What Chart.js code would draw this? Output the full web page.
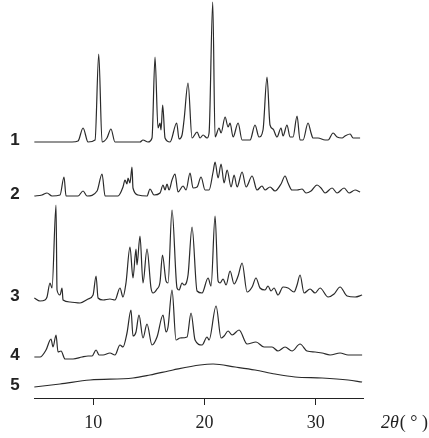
<!DOCTYPE html>
<html>
<head>
<meta charset="utf-8">
<script src="https://cdn.jsdelivr.net/npm/chart.js@4.4.1/dist/chart.umd.min.js"></script>
<style>
  html, body { margin: 0; padding: 0; background: #fff; }
</style>
</head>
<body>
<canvas id="xrdChart" width="429" height="438"></canvas>
<script>
// 2theta positions and intensities, one pair of arrays per pattern
const tth1 = [4.7, 8.09, 8.63, 9.08, 9.53, 10.16, 10.49, 10.79, 11.23, 11.59, 11.95, 14.2, 14.47, 14.92, 15.28, 15.55, 15.82, 16.0, 16.09, 16.24, 16.45, 16.9, 17.5, 17.71, 17.98, 18.16, 18.52, 18.88, 19.33, 19.6, 19.87, 20.23, 20.41, 20.74, 20.95, 21.31, 21.49, 21.85, 22.12, 22.3, 22.57, 23.02, 23.38, 24.1, 24.54, 24.9, 25.26, 25.62, 25.89, 26.16, 26.52, 26.88, 27.06, 27.42, 27.69, 27.96, 28.32, 28.59, 28.86, 29.31, 29.58, 29.76, 30.21, 30.84, 31.11, 31.56, 31.92, 32.37, 32.64, 33.09, 33.36, 33.99];
const int1 = [0, 0, 1, 14, 0, 2, 88, 0, 4, 13, 0, 0, 2, 0, 4, 85, 14, 19, 12, 37, 4, 0, 19, 3, 7, 22, 59, 4, 10, 4, 7, 4, 9, 140, 5, 14, 9, 25, 15, 19, 5, 19, 2, 2, 17, 5, 12, 65, 17, 13, 5, 14, 6, 17, 5, 5, 26, 2, 2, 19, 9, 4, 4, 2, 2, 9, 5, 4, 6, 8, 4, 4];

const tth2 = [4.7, 5.39, 5.84, 6.29, 7.01, 7.37, 7.55, 8.63, 9.08, 9.44, 10.34, 10.79, 11.06, 12.22, 12.67, 12.85, 13.03, 13.12, 13.3, 13.48, 13.57, 14.02, 14.83, 15.1, 15.46, 16.0, 16.27, 16.45, 16.63, 16.81, 17.08, 17.35, 17.62, 18.07, 18.34, 18.7, 18.97, 19.33, 19.69, 20.05, 20.41, 20.77, 20.95, 21.22, 21.49, 21.76, 22.03, 22.39, 22.66, 22.93, 23.38, 23.74, 24.28, 24.72, 25.17, 25.44, 25.89, 26.34, 26.88, 27.24, 27.51, 27.87, 28.32, 28.77, 29.13, 29.58, 30.12, 30.48, 30.84, 31.47, 31.92, 32.55, 33.0, 33.54, 33.99];
const int2 = [0, 1, 3, 0, 1, 19, 0, 0, 5, 0, 5, 22, 0, 0, 9, 16, 12, 18, 13, 29, 8, 1, 0, 7, 1, 3, 11, 6, 12, 6, 16, 22, 4, 10, 6, 23, 8, 9, 19, 6, 6, 24, 34, 18, 32, 13, 26, 9, 21, 9, 24, 9, 20, 6, 10, 6, 9, 5, 12, 20, 13, 6, 6, 7, 3, 5, 11, 8, 3, 8, 3, 8, 3, 6, 4];

const tth3 = [4.7, 5.21, 5.66, 5.84, 6.11, 6.29, 6.65, 6.74, 7.01, 7.19, 7.28, 7.91, 8.81, 9.53, 9.98, 10.25, 10.43, 10.88, 11.5, 11.95, 12.4, 12.67, 12.94, 13.3, 13.57, 13.84, 13.93, 14.2, 14.47, 14.83, 15.19, 15.37, 15.73, 16.0, 16.22, 16.54, 16.72, 17.08, 17.53, 17.71, 17.98, 18.16, 18.52, 18.88, 19.33, 19.78, 20.32, 20.59, 20.95, 21.22, 21.4, 21.67, 21.94, 22.3, 22.66, 23.02, 23.38, 23.83, 24.28, 24.63, 24.99, 25.44, 25.71, 25.98, 26.25, 26.61, 27.06, 27.51, 28.05, 28.32, 28.59, 28.95, 29.49, 29.94, 30.39, 31.11, 31.65, 32.19, 32.82, 33.54, 34.17];
const int3 = [5, 2, 3, 6, 20, 15, 98, 13, 8, 15, 3, 1, 0, 4, 8, 27, 5, 3, 4, 3, 15, 6, 20, 56, 25, 54, 38, 67, 20, 54, 15, 10, 14, 21, 48, 22, 20, 93, 15, 13, 20, 18, 28, 76, 12, 10, 25, 17, 87, 22, 20, 24, 18, 32, 19, 27, 40, 11, 16, 25, 15, 13, 17, 12, 15, 8, 16, 15, 11, 18, 28, 10, 14, 10, 15, 6, 9, 16, 7, 6, 8];

const tth4 = [4.7, 5.21, 5.75, 6.2, 6.38, 6.65, 6.83, 7.1, 7.46, 8.18, 8.99, 9.53, 9.89, 10.25, 10.52, 10.88, 11.5, 11.95, 12.4, 12.67, 13.03, 13.39, 13.57, 13.84, 14.11, 14.47, 14.83, 15.28, 15.73, 16.27, 16.54, 16.72, 17.08, 17.44, 17.8, 18.43, 18.79, 19.15, 19.78, 20.23, 20.41, 21.04, 21.49, 21.76, 22.12, 22.48, 23.11, 23.83, 24.63, 25.35, 26.07, 26.61, 27.24, 27.87, 28.59, 29.22, 29.94, 30.57, 31.29, 32.19, 32.91, 34.17];
const int4 = [2, 2, 9, 20, 12, 24, 7, 8, 0, 0, 2, 3, 3, 9, 4, 4, 6, 4, 14, 12, 26, 49, 23, 27, 44, 21, 35, 14, 22, 44, 27, 32, 69, 19, 21, 22, 46, 19, 14, 22, 19, 53, 21, 23, 28, 24, 29, 15, 17, 12, 12, 8, 12, 8, 15, 8, 7, 6, 4, 6, 4, 4];

const tth5 = [4.7, 7.01, 9.71, 13.57, 15.1, 17.17, 19.6, 20.77, 22.75, 24.54, 26.34, 28.14, 30.57, 32.91, 34.17];
const int5 = [3, 6, 10, 12, 15, 20, 25, 26, 23, 20, 16, 13, 12, 10, 8];

// vertical offset of each pattern in the stack
const offsets = [256, 202, 95, 39, 8];
const sampleNames = ['1', '2', '3', '4', '5'];
const xTicks = [10, 20, 30];

const patterns = [[tth1, int1], [tth2, int2], [tth3, int3], [tth4, int4], [tth5, int5]];

const stackLabels = {
    id: 'stackLabels',
    afterDraw(chart) {
        const { ctx, chartArea } = chart;
        const y = chart.scales.y;
        ctx.save();
        ctx.fillStyle = '#222';
        ctx.font = 'bold 17px "Liberation Sans"';
        ctx.textAlign = 'center';
        ctx.textBaseline = 'middle';
        chart.data.datasets.forEach((ds, i) => {
            ctx.fillText(sampleNames[i], 15, y.getPixelForValue(ds.data[0].y) - 2);
        });
        // axis title 2θ(°)
        ctx.textAlign = 'left';
        const tx = chartArea.right + 18;
        const ty = 423;
        ctx.font = 'italic 18px "Liberation Serif"';
        ctx.fillText('2θ', tx, ty);
        const w = ctx.measureText('2θ').width;
        ctx.font = '18px "Liberation Serif"';
        ctx.fillText('( ° )', tx + w + 1, ty);
        ctx.restore();
    }
};

new Chart(document.getElementById('xrdChart'), {
    type: 'line',
    data: {
        datasets: patterns.map((p, k) => ({
            label: sampleNames[k],
            data: p[0].map((t, i) => ({ x: t, y: p[1][i] + offsets[k] })),
            borderColor: '#2a2a2a',
            borderWidth: 1.2,
            pointRadius: 0,
            cubicInterpolationMode: 'monotone',
            fill: false,
            clip: false
        }))
    },
    options: {
        responsive: false,
        animation: false,
        devicePixelRatio: 1,
        layout: { padding: { left: 34, right: 66, top: 2, bottom: 0 } },
        plugins: { legend: { display: false }, tooltip: { enabled: false } },
        scales: {
            x: {
                type: 'linear',
                min: 4.67,
                max: 34.25,
                afterBuildTicks: scale => { scale.ticks = xTicks.map(v => ({ value: v })); },
                afterFit: scale => { scale.height = 40; },
                grid: { drawOnChartArea: false, drawTicks: true, tickLength: 7, color: '#222' },
                border: { display: true, color: '#222', width: 1 },
                ticks: {
                    color: '#222',
                    padding: 7,
                    maxRotation: 0,
                    font: { family: '"Liberation Serif"', size: 18 }
                }
            },
            y: {
                display: false,
                min: 0,
                max: 396
            }
        }
    },
    plugins: [stackLabels]
});
</script>
</body>
</html>
